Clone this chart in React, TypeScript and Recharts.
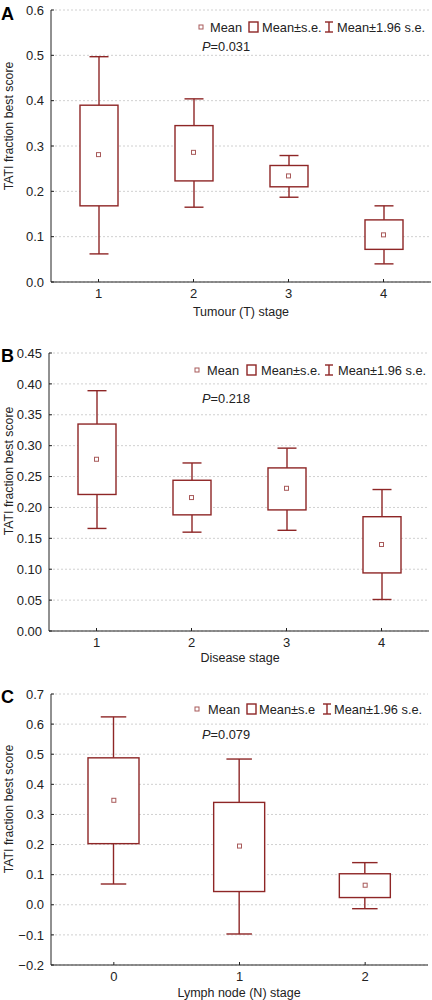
import { ComposedChart, Bar, Scatter, XAxis, YAxis, CartesianGrid } from 'recharts';

const FONT = '"Liberation Sans", Arial, Helvetica, sans-serif';
const RED = '#8e2626';
const MEAN_RED = '#a85a5a';
const INK = '#222';

// Panel A: tumour (T) stage
const tStages = ['1', '2', '3', '4'];
const tMean = [0.281, 0.286, 0.234, 0.104];
const tSeLow = [0.168, 0.223, 0.21, 0.072];
const tSeHigh = [0.39, 0.345, 0.257, 0.137];
const tCiLow = [0.062, 0.165, 0.187, 0.04];
const tCiHigh = [0.497, 0.404, 0.279, 0.168];
const tTicks = [0, 0.1, 0.2, 0.3, 0.4, 0.5, 0.6];

// Panel B: disease stage
const dStages = ['1', '2', '3', '4'];
const dMean = [0.278, 0.216, 0.231, 0.14];
const dSeLow = [0.221, 0.188, 0.196, 0.094];
const dSeHigh = [0.335, 0.244, 0.264, 0.185];
const dCiLow = [0.166, 0.16, 0.163, 0.051];
const dCiHigh = [0.389, 0.272, 0.296, 0.229];
const dTicks = [0, 0.05, 0.1, 0.15, 0.2, 0.25, 0.3, 0.35, 0.4, 0.45];

// Panel C: lymph node (N) stage
const nStages = ['0', '1', '2'];
const nMean = [0.347, 0.195, 0.065];
const nSeLow = [0.203, 0.044, 0.024];
const nSeHigh = [0.488, 0.34, 0.103];
const nCiLow = [0.069, -0.097, -0.013];
const nCiHigh = [0.624, 0.484, 0.14];
const nTicks = [-0.2, -0.1, 0, 0.1, 0.2, 0.3, 0.4, 0.5, 0.6, 0.7];

interface Row {
  stage: string;
  mean: number;
  seLow: number;
  seHigh: number;
  ciLow: number;
  ciHigh: number;
}

function buildRows(stages: string[], mean: number[], seLow: number[], seHigh: number[], ciLow: number[], ciHigh: number[]): Row[] {
  return stages.map((stage, i) => ({
    stage,
    mean: mean[i],
    seLow: seLow[i],
    seHigh: seHigh[i],
    ciLow: ciLow[i],
    ciHigh: ciHigh[i],
  }));
}

function BoxWhisker(props: any) {
  const { x, y, width, height, payload } = props;
  if (!payload) return null;
  const top = Math.min(y, y + height);
  const bottom = Math.max(y, y + height);
  const span = payload.ciHigh - payload.ciLow;
  const py = (v: number) => bottom - ((v - payload.ciLow) / span) * (bottom - top);
  const cx = x + width / 2;
  const cap = width / 4;
  const boxTop = py(payload.seHigh);
  const boxBottom = py(payload.seLow);
  return (
    <g stroke={RED} strokeWidth={1.4}>
      <line x1={cx} x2={cx} y1={top} y2={boxTop} />
      <line x1={cx} x2={cx} y1={boxBottom} y2={bottom} />
      <line x1={cx - cap} x2={cx + cap} y1={top} y2={top} />
      <line x1={cx - cap} x2={cx + cap} y1={bottom} y2={bottom} />
      <rect x={x} y={boxTop} width={width} height={boxBottom - boxTop} fill="#fff" />
    </g>
  );
}

function MeanMark(props: any) {
  const { cx, cy } = props;
  return <rect x={cx - 2} y={cy - 2} width={4} height={4} fill="#fff" stroke={MEAN_RED} strokeWidth={1} />;
}

interface PanelProps {
  rows: Row[];
  domain: [number, number];
  ticks: number[];
  digits: number;
  top: number;
  height: number;
  yWidth: number;
  right: number;
  barSize: number;
}

function Panel({ rows, domain, ticks, digits, top, height, yWidth, right, barSize }: PanelProps) {
  const tickStyle = { fill: INK, fontSize: 13, fontFamily: FONT };
  return (
    <div style={{ position: 'absolute', left: 0, top }}>
      <ComposedChart width={432} height={height} data={rows} margin={{ top: 10, right, bottom: 0, left: 0 }}>
        <CartesianGrid vertical={false} stroke="#d0d0d0" strokeDasharray="2 2" />
        <XAxis
          dataKey="stage"
          type="category"
          height={40}
          tickSize={-3}
          tickMargin={10}
          stroke={INK}
          tick={tickStyle}
        />
        <XAxis
          xAxisId="top"
          dataKey="stage"
          type="category"
          orientation="top"
          height={0}
          tickSize={-3}
          tickFormatter={() => ''}
          stroke={INK}
        />
        <YAxis
          type="number"
          domain={domain}
          ticks={ticks}
          interval={0}
          width={yWidth}
          tickSize={-3}
          tickMargin={10}
          stroke={INK}
          tick={tickStyle}
          tickFormatter={(v: number) => (v < 0 ? '\u2212' + Math.abs(v).toFixed(digits) : v.toFixed(digits))}
        />
        <YAxis
          yAxisId="right"
          type="number"
          orientation="right"
          domain={domain}
          ticks={ticks}
          interval={0}
          width={0}
          tickSize={-3}
          tickFormatter={() => ''}
          stroke={INK}
        />
        <Bar
          dataKey={(d: Row) => [d.ciLow, d.ciHigh]}
          barSize={barSize}
          shape={<BoxWhisker />}
          isAnimationActive={false}
        />
        <Scatter dataKey="mean" shape={<MeanMark />} isAnimationActive={false} />
      </ComposedChart>
    </div>
  );
}

function LegendRow({ y, xs, seLabel }: { y: number; xs: number[]; seLabel: string }) {
  const base = y + 4.5;
  return (
    <g fontFamily={FONT} fontSize={12.8} fill={INK}>
      <rect x={xs[0]} y={y - 2} width={4} height={4} fill="#fff" stroke={MEAN_RED} strokeWidth={1} />
      <text x={xs[1]} y={base}>Mean</text>
      <rect x={xs[2]} y={y - 5} width={9} height={10} fill="#fff" stroke={RED} strokeWidth={1.4} />
      <text x={xs[3]} y={base}>{seLabel}</text>
      <g stroke={RED} strokeWidth={1.4}>
        <line x1={xs[4] + 4} x2={xs[4] + 4} y1={y - 5} y2={y + 5} />
        <line x1={xs[4]} x2={xs[4] + 8} y1={y - 5} y2={y - 5} />
        <line x1={xs[4]} x2={xs[4] + 8} y1={y + 5} y2={y + 5} />
      </g>
      <text x={xs[5]} y={base}>Mean±1.96 s.e.</text>
    </g>
  );
}

function PValue({ y, value }: { y: number; value: string }) {
  return (
    <text x={202} y={y + 4.5} fontFamily={FONT} fontSize={12.8} fill={INK}>
      <tspan fontStyle="italic">P</tspan>
      {'=' + value}
    </text>
  );
}

function YTitle({ cy }: { cy: number }) {
  return (
    <text
      x={0}
      y={0}
      transform={`translate(13, ${cy}) rotate(-90)`}
      textAnchor="middle"
      fontFamily={FONT}
      fontSize={12.3}
      fill={INK}
    >
      TATI fraction best score
    </text>
  );
}

function XTitle({ cx, cy, label }: { cx: number; cy: number; label: string }) {
  return (
    <text x={cx} y={cy + 4.4} textAnchor="middle" fontFamily={FONT} fontSize={12.5} fill={INK}>
      {label}
    </text>
  );
}

function Letter({ y, label }: { y: number; label: string }) {
  return (
    <text x={1} y={y + 6.5} fontFamily={FONT} fontSize={18} fontWeight="bold" fill="#000">
      {label}
    </text>
  );
}

export default function App() {
  const tRows = buildRows(tStages, tMean, tSeLow, tSeHigh, tCiLow, tCiHigh);
  const dRows = buildRows(dStages, dMean, dSeLow, dSeHigh, dCiLow, dCiHigh);
  const nRows = buildRows(nStages, nMean, nSeLow, nSeHigh, nCiLow, nCiHigh);

  return (
    <div style={{ position: 'absolute', left: 0, top: 0, width: 432, height: 1000, background: '#fff', overflow: 'hidden' }}>
      <Panel rows={tRows} domain={[0, 0.6]} ticks={tTicks} digits={1} top={0} height={322} yWidth={51} right={1} barSize={38} />
      <Panel rows={dRows} domain={[0, 0.45]} ticks={dTicks} digits={2} top={343} height={328} yWidth={49} right={3} barSize={38} />
      <Panel rows={nRows} domain={[-0.2, 0.7]} ticks={nTicks} digits={1} top={684} height={321} yWidth={51} right={4} barSize={51} />
      <svg width={432} height={1000} style={{ position: 'absolute', left: 0, top: 0, pointerEvents: 'none' }}>
        <Letter y={13} label="A" />
        <Letter y={355} label="B" />
        <Letter y={696} label="C" />
        <YTitle cy={126} />
        <YTitle cy={471} />
        <YTitle cy={809} />
        <XTitle cx={241} cy={312} label="Tumour (T) stage" />
        <XTitle cx={240} cy={658} label="Disease stage" />
        <XTitle cx={239} cy={993} label="Lymph node (N) stage" />
        <LegendRow y={27} xs={[199, 210, 249, 262, 325, 337]} seLabel="Mean±s.e." />
        <LegendRow y={370} xs={[195, 207, 247, 261, 325, 338]} seLabel="Mean±s.e." />
        <LegendRow y={709} xs={[195, 208, 247, 259, 323, 334]} seLabel="Mean±s.e" />
        <PValue y={46} value="0.031" />
        <PValue y={398} value="0.218" />
        <PValue y={734} value="0.079" />
      </svg>
    </div>
  );
}
